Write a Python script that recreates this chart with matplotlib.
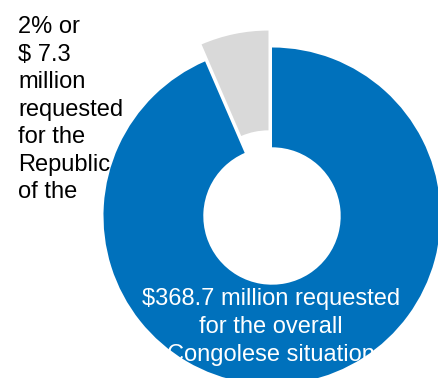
import matplotlib
matplotlib.use("Agg")
import matplotlib.pyplot as plt

plt.rcParams['font.family'] = ['Liberation Sans', 'DejaVu Sans']

# Slice shares of the donut (Republic of the Congo, rest of the situation)
segments = ["Republic of the Congo", "Overall Congolese situation"]
shares = [6.5, 93.5]
requested_musd = [7.3, 368.7]
colors = ["#D9D9D9", "#0071BC"]

W, H = 438, 378
fig = plt.figure(figsize=(W / 100, H / 100), dpi=100)
ax = fig.add_axes([0, 0, 1, 1])

cx, cy = 272, H - 216
radius = 168.5
hole = 68.7
pull_out = 17.3  # offset of the small slice, in axis units

ax.pie(shares, colors=colors, explode=[pull_out, 0.0], startangle=90,
       counterclock=True, center=(cx, cy), radius=radius,
       wedgeprops=dict(width=radius - hole, linewidth=0))

ax.set_xlim(0, W)
ax.set_ylim(0, H)
ax.set_aspect('equal')
ax.axis('off')

fs = 17

# Label for the small slice, left side
left_lines = ["2% or", f"$ {requested_musd[0]}", "million", "requested",
              "for the", "Republic", "of the"]
for i, line in enumerate(left_lines):
    ax.text(18, H - (33.3 + 27.45 * i), line, fontsize=fs, color="black",
            ha="left", va="baseline")

# Label inside the large slice
bottom_lines = [f"${requested_musd[1]} million requested", "for the overall",
                "Congolese situation"]
for i, line in enumerate(bottom_lines):
    ax.text(271, H - (305 + 28 * i), line, fontsize=fs, color="white",
            ha="center", va="baseline", zorder=5)

fig.savefig("out.png", dpi=100)
